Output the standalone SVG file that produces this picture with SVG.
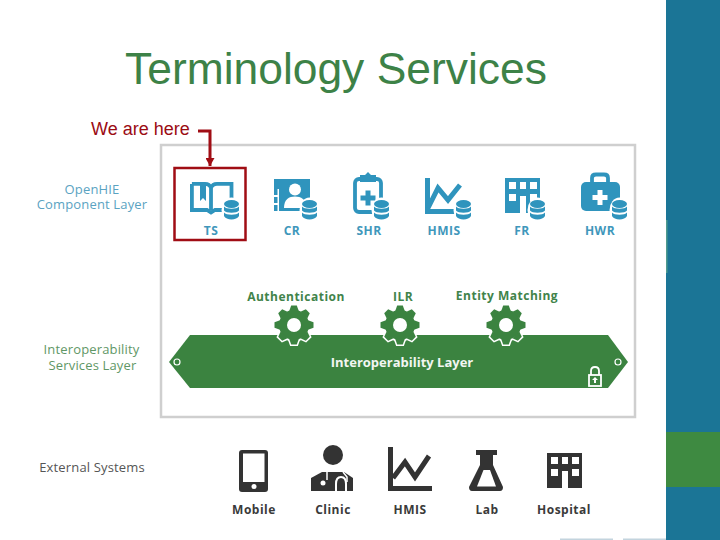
<svg xmlns="http://www.w3.org/2000/svg" xmlns:xlink="http://www.w3.org/1999/xlink" width="720" height="540" viewBox="0 0 720 540">
<style>
text{font-family:"Open Sans","Noto Sans","Liberation Sans",sans-serif;text-anchor:middle}
.title{font-family:"Liberation Sans",Arial,sans-serif;font-size:44.4px;fill:#3d8247;text-anchor:start}
.here{font-family:"Liberation Sans",Arial,sans-serif;font-size:18px;fill:#9b0b14;text-anchor:start}
.lbl{font-size:12px;font-weight:700;letter-spacing:.5px}
.b{fill:#2f94bd}
.bt{fill:#3f97bb}
.g{fill:#3b8340}
.gt{fill:#41834a}
.k{fill:#333}
.kt{fill:#3a3a3a}
.side{font-size:13px;letter-spacing:.15px}
.bs{fill:none;stroke:#2f94bd;stroke-width:3.800}
.w{fill:#fff}
.link{fill:none;stroke:#a00d14;stroke-width:3}
</style>
<defs>
<marker id="arr" markerUnits="userSpaceOnUse" markerWidth="9" markerHeight="9" refX="8" refY="4.500" orient="auto"><path d="M0 0L8 4.500L0 9Z" fill="#a00d14"/></marker>
<g id="db">
<ellipse cx="7.500" cy="10" rx="10" ry="12.500" fill="#fff"/>
<ellipse cx="7.500" cy="4" rx="7.500" ry="4" class="b"/>
<path d="M0 6.500C2 9.500 13 9.500 15 6.500V10.500C13 13.500 2 13.500 0 10.500Z" class="b"/>
<path d="M0 12.500C2 15.500 13 15.500 15 12.500V16C13 20.500 2 20.500 0 16Z" class="b"/>
</g>
<path id="bld" fill-rule="evenodd" d="M0 0H35V35H21V18H15V35H0ZM4 4V11H11V4ZM15 4V11H21V4ZM25 4V11H32V4ZM4 16V23H11V16ZM25 16V23H32V16Z"/>
<polygon id="tooth" points="-4.800,-14 -2.800,-19.500 2.800,-19.500 4.800,-14"/>
<g id="gearshape">
<circle r="15"/>
<use xlink:href="#tooth" href="#tooth"/>
<use xlink:href="#tooth" href="#tooth" transform="rotate(45)"/>
<use xlink:href="#tooth" href="#tooth" transform="rotate(90)"/>
<use xlink:href="#tooth" href="#tooth" transform="rotate(135)"/>
<use xlink:href="#tooth" href="#tooth" transform="rotate(180)"/>
<use xlink:href="#tooth" href="#tooth" transform="rotate(225)"/>
<use xlink:href="#tooth" href="#tooth" transform="rotate(270)"/>
<use xlink:href="#tooth" href="#tooth" transform="rotate(315)"/>
</g>
<g id="gear">
<use xlink:href="#gearshape" href="#gearshape" fill="#fff" stroke="#fff" stroke-width="3"/>
<use xlink:href="#gearshape" href="#gearshape" fill="#3b8340"/>
<circle r="7" fill="#fff"/>
</g>
</defs>
<rect width="720" height="540" fill="#fff"/>
<g id="sidebar">
<rect x="666" y="0" width="54" height="540" fill="#1b7596"/>
<rect x="666" y="432" width="54" height="55" fill="#3e8a41"/>
<rect x="666" y="220" width="1.500" height="53" fill="#4f9a8e"/>
<rect x="560" y="538.500" width="53" height="1.500" fill="#c3d4de"/>
<rect x="623" y="538.500" width="43" height="1.500" fill="#c3d4de"/>
</g>
<text class="title" x="125" y="84">Terminology Services</text>
<rect id="panel" x="161" y="145" width="474" height="272" fill="#fff" stroke="#cfcfcf" stroke-width="2.500"/>
<g id="layer-labels">
<text class="side" fill="#5aa3c2"><tspan x="92" y="194">OpenHIE</tspan><tspan x="92" y="209">Component Layer</tspan></text>
<text class="side" fill="#5f9766"><tspan x="91.500" y="354">Interoperability</tspan><tspan x="92.500" y="370">Services Layer</tspan></text>
<text class="side" x="92" y="472" fill="#555">External Systems</text>
</g>
<g id="here"><text class="here" x="91" y="135">We are here</text></g>
<g id="node-ts">
<rect x="174.500" y="168" width="71" height="72" fill="none" stroke="#a00d14" stroke-width="2.500"/>
<path class="bs" d="M191.900 183.900V210H207L211 212.500L215 210H226M231.500 208V183.900H217Q212.500 183.900 211 188Q209.500 183.900 205 183.900H191.900M211 188V210"/>
<path class="b" d="M200 184H206V201L203 198L200 201Z"/>
<use xlink:href="#db" href="#db" x="224" y="200"/>
<text class="lbl bt" x="211" y="235">TS</text>
</g>
<g id="node-cr">
<rect class="b" x="274" y="179" width="36" height="32"/>
<path class="w" d="M277.500 189H279V211H277.500ZM274 195H278V197H274ZM274 203H278V205H274Z"/>
<circle class="w" cx="295" cy="189.500" r="6"/>
<path class="w" d="M284 208C284 199 289 196.500 295 196.500C301 196.500 306 199 307 208Z"/>
<use xlink:href="#db" href="#db" x="302" y="200"/>
<text class="lbl bt" x="292" y="235">CR</text>
</g>
<g id="node-shr">
<rect class="bs" x="355" y="179" width="26" height="33" rx="4"/>
<path class="b" d="M360 175H365L368 172L371 175H376V182H360Z"/>
<path class="b" d="M365.500 190.500H370.500V195.500H375.500V200.500H370.500V205.500H365.500V200.500H360.500V195.500H365.500Z"/>
<use xlink:href="#db" href="#db" x="374" y="200"/>
<text class="lbl bt" x="369" y="235">SHR</text>
</g>
<g id="node-hmis">
<path fill="none" stroke="#2f94bd" stroke-width="5" d="M427.500 178V211.500H456"/>
<path fill="none" stroke="#2f94bd" stroke-width="5" d="M428 208L438 188L448 200L460 185"/>
<use xlink:href="#db" href="#db" x="456" y="200"/>
<text class="lbl bt" x="444" y="235">HMIS</text>
</g>
<g id="node-fr">
<use xlink:href="#bld" href="#bld" x="505" y="178" class="b"/>
<use xlink:href="#db" href="#db" x="530" y="200"/>
<text class="lbl bt" x="522" y="235">FR</text>
</g>
<g id="node-hwr">
<path class="bs" d="M592 183V178Q592 174.500 596 174.500H604Q608 174.500 608 178V183"/>
<rect class="b" x="581" y="182" width="39" height="29" rx="5"/>
<path class="w" d="M597.500 190H602.500V195H607.500V200H602.500V205H597.500V200H592.500V195H597.500Z"/>
<use xlink:href="#db" href="#db" x="612" y="200"/>
<text class="lbl bt" x="600" y="235">HWR</text>
</g>
<g id="node-interop">
<path class="g" d="M169 362L190 335H608L628 362L608 388H190Z"/>
<circle cx="177" cy="362" r="3" fill="none" stroke="#fff" stroke-width="1.200"/>
<circle cx="618" cy="362" r="3" fill="none" stroke="#fff" stroke-width="1.200"/>
<text x="402" y="367" fill="#f2f6f2" font-size="13" font-weight="700">Interoperability Layer</text>
<rect x="589" y="375" width="12" height="11" fill="none" stroke="#fff" stroke-width="1.800"/>
<path d="M591 375V371Q591 367 595 367Q599 367 599 371V375" fill="none" stroke="#fff" stroke-width="1.800"/>
<path class="w" d="M595 377L598 380H596V383H594V380H592Z"/>
</g>
<g id="node-auth">
<use xlink:href="#gear" href="#gear" x="294" y="325"/>
<text class="lbl gt" x="296" y="301">Authentication</text>
</g>
<g id="node-ilr">
<use xlink:href="#gear" href="#gear" x="400" y="325"/>
<text class="lbl gt" x="403" y="301">ILR</text>
</g>
<g id="node-entity">
<use xlink:href="#gear" href="#gear" x="506" y="325"/>
<text class="lbl gt" x="507" y="300">Entity Matching</text>
</g>
<g id="node-mobile">
<rect class="k" x="239" y="450" width="29" height="42" rx="3"/>
<rect class="w" x="243" y="453.500" width="21.500" height="28.500"/>
<circle class="w" cx="254" cy="486.500" r="2.500"/>
<text class="lbl kt" x="254" y="514">Mobile</text>
</g>
<g id="node-clinic">
<circle class="k" cx="333" cy="455" r="10"/>
<path class="k" d="M311 491V478L322 472H344L353 478V491Z"/>
<path d="M343 472L347 477V482M327 472V480" fill="none" stroke="#fff" stroke-width="1.500"/>
<path d="M336 491V484Q336 477 341 477Q346 477 346 484V491" fill="none" stroke="#fff" stroke-width="2"/>
<circle class="w" cx="323" cy="483" r="2.500"/>
<text class="lbl kt" x="333" y="514">Clinic</text>
</g>
<g id="node-hmis-ext">
<path fill="none" stroke="#333" stroke-width="5" d="M390.500 447V488.500H432"/>
<path fill="none" stroke="#333" stroke-width="5" d="M393 478L405 462L415 477L429 456"/>
<text class="lbl kt" x="410" y="514">HMIS</text>
</g>
<g id="node-lab">
<path class="k" d="M476 450H497V455H493V465L503 487Q503 491 500 491H472Q469 491 469 487L480 465V455H476Z"/>
<path class="w" d="M483.500 470H490L496 486.500H477Z"/>
<text class="lbl kt" x="487" y="514">Lab</text>
</g>
<g id="node-hospital">
<use xlink:href="#bld" href="#bld" x="547" y="453" class="k"/>
<text class="lbl kt" x="564" y="514">Hospital</text>
</g>
<g id="connectors">
<path class="link" marker-end="url(#arr)" d="M198 131H210V166"/>
</g>
</svg>
